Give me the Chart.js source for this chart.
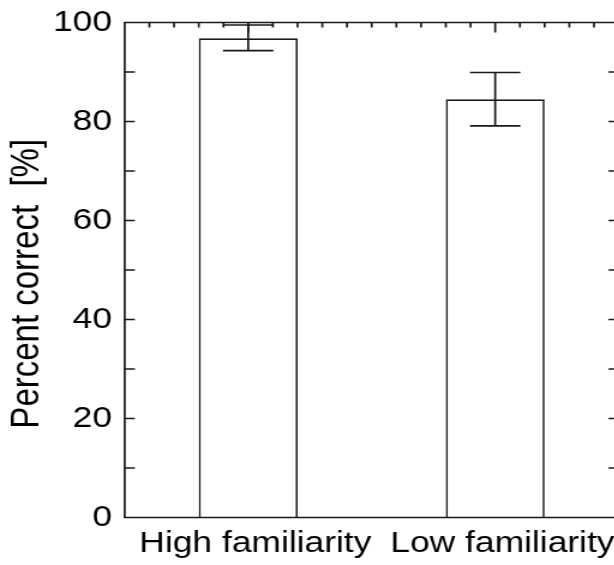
<!DOCTYPE html>
<html>
<head>
<meta charset="utf-8">
<script src="https://cdn.jsdelivr.net/npm/chart.js@4"></script>
<style>
  html, body { margin: 0; padding: 0; background: #fff; overflow: hidden; width: 614px; height: 565px; }
  /* the reference is stretched sideways, so the chart is drawn narrow and widened */
  #chart { transform: scaleX(1.2); transform-origin: 0 0; }
</style>
</head>
<body>
<canvas id="chart" width="520" height="565"></canvas>
<script>
var categories = ["High familiarity", "Low familiarity"];
var percentCorrect = [96.8, 84.5];
var errLow = [94.3, 79.1];
var errHigh = [99.5, 89.9];
var yTickLabels = [0, 20, 40, 60, 80, 100];

var ink = "#1a1a1a";

// error bars and the inward tick marks of the box
var boxPlugin = {
  id: "box",
  afterDatasetsDraw: function (chart) {
    var ctx = chart.ctx;
    var a = chart.chartArea;
    var x = chart.scales.x;
    var y = chart.scales.y;
    ctx.save();
    ctx.strokeStyle = ink;
    ctx.lineWidth = 1.7;

    ctx.beginPath();
    for (var i = 0; i < categories.length; i++) {
      var cx = x.getPixelForValue(i);
      var yl = y.getPixelForValue(errLow[i]);
      var yh = y.getPixelForValue(errHigh[i]);
      ctx.moveTo(cx, yl);
      ctx.lineTo(cx, yh);
      ctx.moveTo(cx - 21, yl);
      ctx.lineTo(cx + 21, yl);
      ctx.moveTo(cx - 21, yh);
      ctx.lineTo(cx + 21, yh);
    }
    ctx.stroke();

    ctx.beginPath();
    ctx.rect(a.left, a.top, a.right - a.left, a.bottom - a.top);
    y.ticks.forEach(function (t) {
      var py = y.getPixelForValue(t.value);
      ctx.moveTo(a.left, py);
      ctx.lineTo(a.left + 8.5, py);
      ctx.moveTo(a.right, py);
      ctx.lineTo(a.right - 8.5, py);
    });
    for (var k = 1; k < 20; k++) {
      var px = x.getPixelForDecimal(k / 20);
      ctx.moveTo(px, a.top);
      ctx.lineTo(px, a.top + 5);
    }
    for (var j = 0; j < categories.length; j++) {
      var qx = x.getPixelForValue(j);
      ctx.moveTo(qx, a.top);
      ctx.lineTo(qx, a.top + 10);
    }
    ctx.stroke();
    ctx.restore();
  }
};

var ctx = document.getElementById("chart").getContext("2d");
var chart = new Chart(ctx, {
  type: "bar",
  data: {
    labels: categories,
    datasets: [
      {
        data: percentCorrect,
        backgroundColor: "#ffffff",
        borderColor: ink,
        borderWidth: 1.7,
        barPercentage: 0.4,
        categoryPercentage: 1.0,
      },
    ],
  },
  options: {
    responsive: false,
    animation: false,
    devicePixelRatio: 1,
    layout: { padding: { left: 0, top: 22.5, right: 4.4, bottom: 0 } },
    plugins: { legend: { display: false }, tooltip: { enabled: false } },
    scales: {
      x: {
        grid: { display: false, drawTicks: false },
        border: { display: false },
        ticks: {
          color: "#000",
          padding: 8.5,
          labelOffset: 6,
          maxRotation: 0,
          autoSkip: false,
          font: { family: "Liberation Sans", size: 29.5 },
        },
        afterFit: function (s) { s.height = 47.5; },
      },
      y: {
        min: 0,
        max: 100,
        grid: { display: false, drawTicks: false },
        border: { display: false },
        ticks: {
          stepSize: 10,
          color: "#000",
          padding: 10.5,
          font: { family: "Liberation Sans", size: 29.5, lineHeight: 0.8 },
          callback: function (v) { return yTickLabels.indexOf(v) >= 0 ? String(v) : ""; },
        },
        title: {
          display: true,
          text: "Percent correct  [%]   ",
          color: "#000",
          padding: { top: 3.6, bottom: 0 },
          font: { family: "Liberation Sans", size: 33, weight: "normal" },
        },
        afterFit: function (s) { s.width = 103.9; },
      },
    },
  },
  plugins: [boxPlugin],
});
</script>
</body>
</html>
